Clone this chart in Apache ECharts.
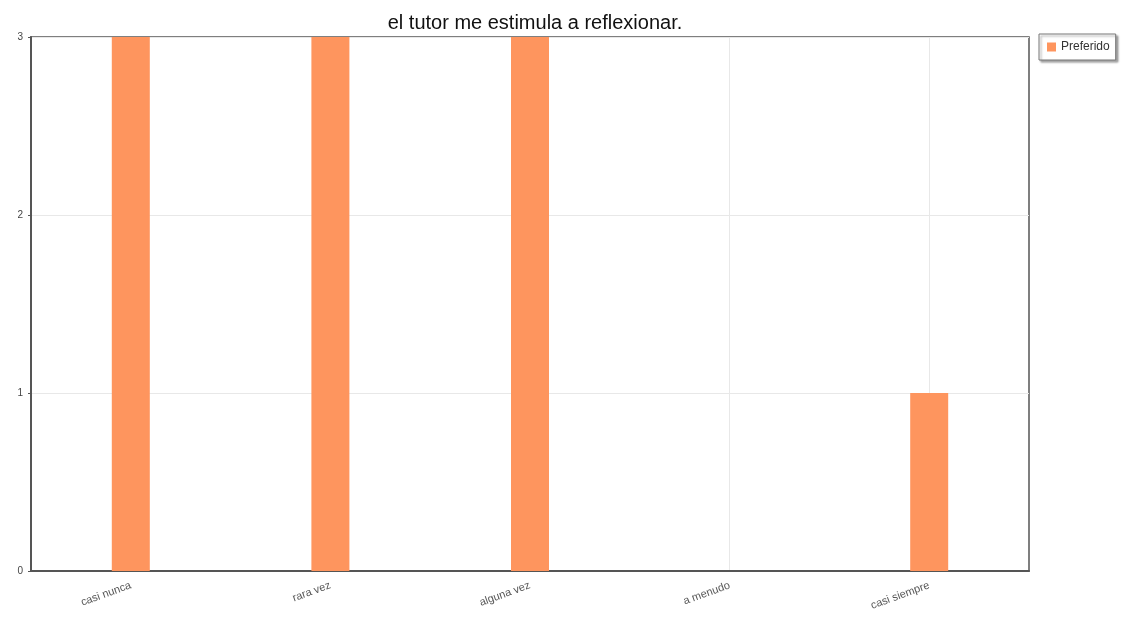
<!DOCTYPE html>
<html>
<head>
<meta charset="utf-8">
<script src="https://cdn.jsdelivr.net/npm/echarts@6/dist/echarts.min.js"></script>
<style>
    html, body { margin: 0; padding: 0; background: #fff; }
    #chart { width: 1136px; height: 624px; }
</style>
</head>
<body>
<div id="chart"></div>
<script>
// 分类与数值
let categories = ['casi nunca', 'rara vez', 'alguna vez', 'a menudo', 'casi siempre'];
let preferido = [3, 3, 3, 0, 1];
let yTicks = [0, 1, 2, 3];

let myChart = echarts.init(document.getElementById('chart'));
let option = {
    backgroundColor: '#fff',
    title: {
        text: 'el tutor me estimula a reflexionar.',
        left: 530,
        textAlign: 'center',
        top: 8,
        textStyle: {
            fontFamily: 'Liberation Sans',
            fontSize: 20,
            fontWeight: 'normal',
            color: '#111'
        }
    },
    legend: {
        data: ['Preferido'],
        left: 1039,
        top: 34,
        orient: 'vertical',
        icon: 'rect',
        itemWidth: 9,
        itemHeight: 9,
        padding: [7, 6, 7, 8],
        borderColor: '#777',
        borderWidth: 1,
        shadowColor: 'rgba(0,0,0,0.35)',
        shadowOffsetX: 2,
        shadowOffsetY: 2,
        shadowBlur: 2,
        backgroundColor: '#fff',
        textStyle: { fontSize: 12, color: '#333', fontFamily: 'Liberation Sans' }
    },
    grid: {
        left: 31,
        right: 107,
        top: 37,
        bottom: 53,
        show: true,
        borderColor: '#555',
        borderWidth: 1.5
    },
    xAxis: {
        type: 'category',
        data: categories,
        axisLine: { lineStyle: { color: '#555', width: 2 } },
        axisTick: { show: false, alignWithLabel: true },
        splitLine: { show: true, alignWithLabel: true, lineStyle: { color: '#e8e8e8' } },
        axisLabel: {
            rotate: 20,
            fontSize: 11,
            color: '#555',
            margin: 14,
            fontFamily: 'Liberation Sans'
        }
    },
    yAxis: {
        type: 'value',
        min: yTicks[0],
        max: yTicks[yTicks.length - 1],
        interval: 1,
        axisLine: { show: true, lineStyle: { color: '#555', width: 2 } },
        axisTick: { show: true, length: 3, lineStyle: { color: '#555' } },
        splitLine: { lineStyle: { color: '#e8e8e8' } },
        axisLabel: { fontSize: 10, color: '#444', margin: 8, fontFamily: 'Liberation Sans' }
    },
    series: [{
        name: 'Preferido',
        type: 'bar',
        data: preferido,
        barWidth: 38,
        itemStyle: { color: '#fe955e' }
    }]
};
myChart.setOption(option);
</script>
</body>
</html>
